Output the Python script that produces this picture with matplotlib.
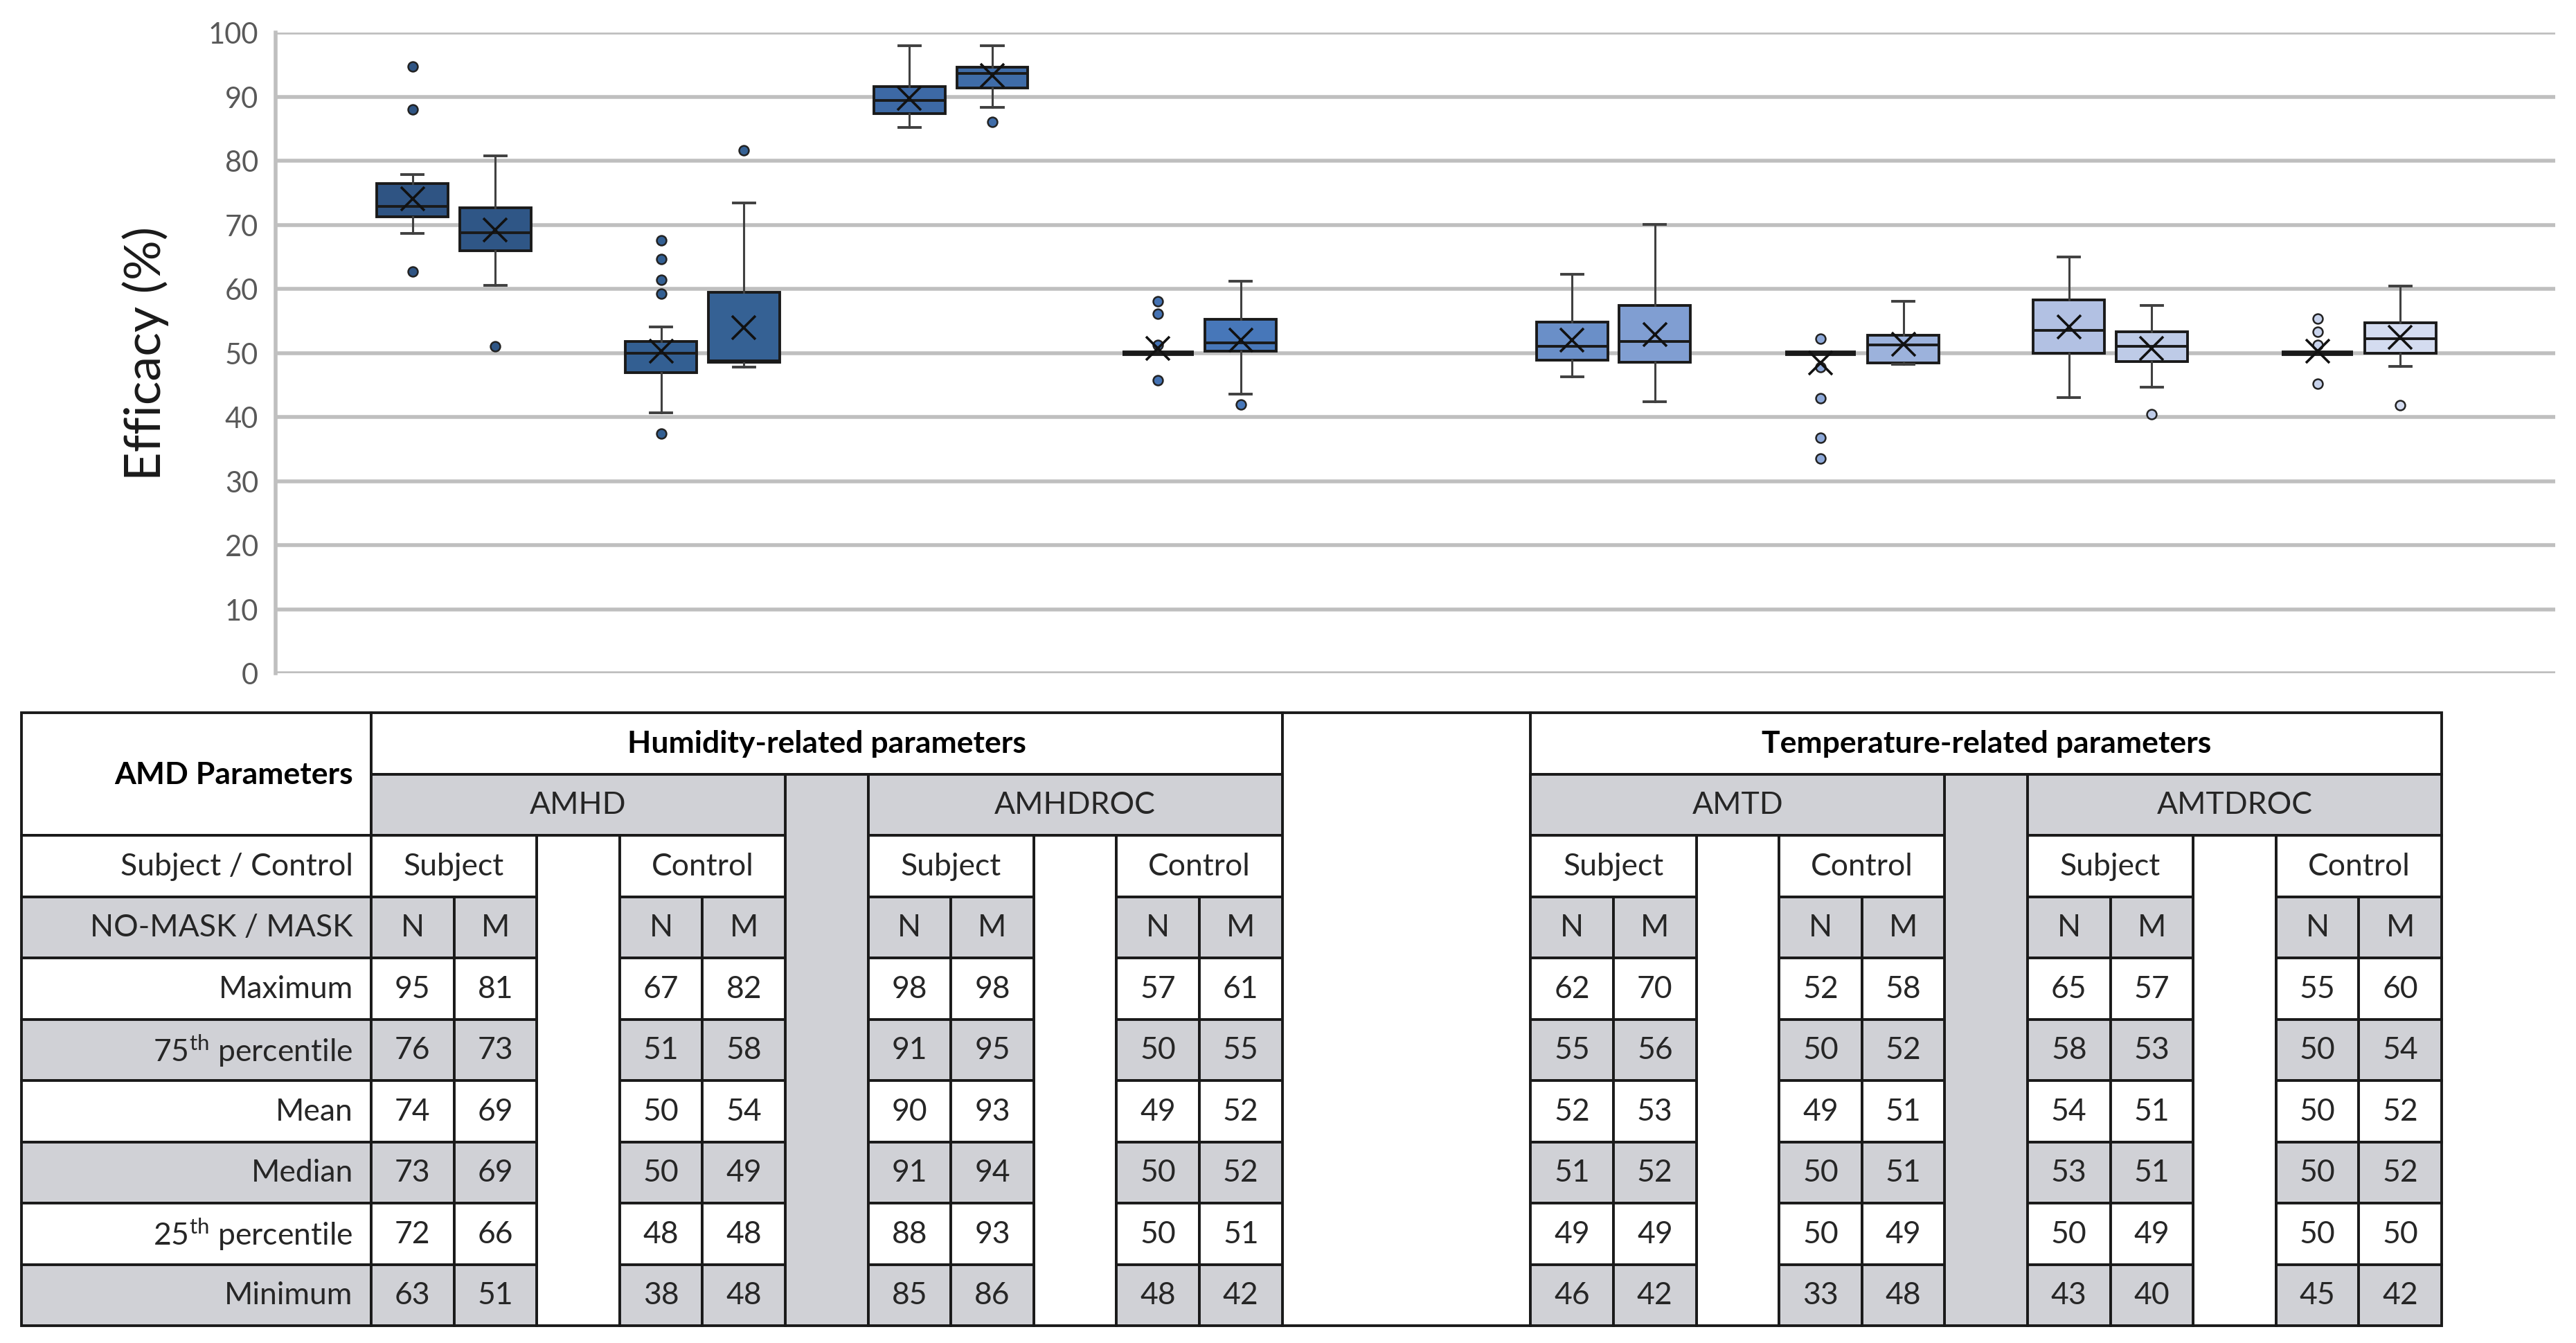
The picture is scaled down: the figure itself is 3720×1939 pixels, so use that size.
import matplotlib
matplotlib.use("Agg")
import matplotlib.pyplot as plt
from matplotlib.patches import Rectangle

plt.rcParams['font.family'] = ['Lato', 'DejaVu Sans']
plt.rcParams['mathtext.fontset'] = 'custom'
plt.rcParams['mathtext.rm'] = 'Lato'

# ---------------- data ----------------
parameters = ["AMHD", "AMHDROC", "AMTD", "AMTDROC"]
families = ["Humidity-related parameters", "Temperature-related parameters"]
groups = ["Subject", "Control"]
masks = ["N", "M"]
stat_labels = ["Maximum", r"75$^{\mathrm{th}}$ percentile", "Mean", "Median",
               r"25$^{\mathrm{th}}$ percentile", "Minimum"]

# table values (16 columns: param x group x mask)
tab_max = [95, 81, 67, 82, 98, 98, 57, 61, 62, 70, 52, 58, 65, 57, 55, 60]
tab_q3 = [76, 73, 51, 58, 91, 95, 50, 55, 55, 56, 50, 52, 58, 53, 50, 54]
tab_mean = [74, 69, 50, 54, 90, 93, 49, 52, 52, 53, 49, 51, 54, 51, 50, 52]
tab_median = [73, 69, 50, 49, 91, 94, 50, 52, 51, 52, 50, 51, 53, 51, 50, 52]
tab_q1 = [72, 66, 48, 48, 88, 93, 50, 51, 49, 49, 50, 49, 50, 49, 50, 50]
tab_min = [63, 51, 38, 48, 85, 86, 48, 42, 46, 42, 33, 48, 43, 40, 45, 42]

# box plot values
box_q1 = [71.2, 65.9, 46.9, 48.5, 87.4, 91.4, 50.0, 50.3, 48.9, 48.5, 50.0, 48.4, 50.0, 48.6, 50.0, 50.0]
box_med = [72.9, 68.8, 49.9, 48.8, 89.4, 93.6, 50.0, 51.6, 51.0, 51.8, 50.0, 51.2, 53.5, 51.0, 50.0, 52.2]
box_q3 = [76.4, 72.7, 51.8, 59.5, 91.6, 94.6, 50.0, 55.2, 54.8, 57.4, 50.0, 52.8, 58.3, 53.3, 50.0, 54.7]
box_mean = [74.1, 69.2, 50.3, 54.0, 89.7, 93.3, 50.7, 52.0, 52.0, 52.9, 48.4, 51.3, 54.1, 50.7, 50.3, 52.4]
whis_lo = [68.6, 60.5, 40.6, 47.8, 85.2, 88.3, 50.0, 43.6, 46.3, 42.4, 50.0, 48.2, 43.0, 44.7, 50.0, 47.9]
whis_hi = [77.8, 80.8, 54.1, 73.4, 97.9, 97.9, 50.0, 61.2, 62.3, 70.1, 50.0, 58.1, 65.0, 57.4, 50.0, 60.4]
outliers = [[94.7, 88.0, 62.7], [51.0], [67.6, 64.6, 61.4, 59.2, 37.4], [81.6],
            [], [86.1], [58.1, 56.1, 51.2, 45.7], [42.0],
            [], [], [52.2, 47.8, 42.9, 36.8, 33.5], [],
            [], [40.4], [55.4, 53.3, 51.2, 45.2], [41.8]]

box_colors = ["#2F5483", "#2F5686", "#335F92", "#356194",
              "#3D69A5", "#3F6CA8", "#4472B3", "#4777B9",
              "#6A8FC8", "#809ED2", "#8DA8D8", "#9CB2DC",
              "#B2C1E3", "#BECBE7", "#C8D3EC", "#D4DCF0"]

# ---------------- layout (pixels of the 3720x1940 canvas) ----------------
W, H, DPI = 3720, 1940, 200
UNIT = 119.6            # width of one table column
X0 = 536.0              # left edge of first data column
param_start = [0, 6, 14, 20]
col_offset = [0, 1, 3, 4]

positions = [param_start[p] + col_offset[k] + 0.5 for p in range(4) for k in range(4)]

fig = plt.figure(figsize=(W / DPI, H / DPI), dpi=DPI)

# chart axes
ch_l, ch_r, ch_t, ch_b = 398, 3690, 48, 973
ax = fig.add_axes([ch_l / W, 1 - ch_b / H, (ch_r - ch_l) / W, (ch_b - ch_t) / H])

stats = []
for i in range(16):
    stats.append(dict(whislo=whis_lo[i], q1=box_q1[i], med=box_med[i], q3=box_q3[i],
                      whishi=whis_hi[i], mean=box_mean[i], fliers=outliers[i]))

bp = ax.bxp(stats, positions=positions, widths=0.86, capwidths=0.26,
            patch_artist=True, showmeans=True,
            boxprops=dict(edgecolor="#1A1A1A", linewidth=1.4),
            medianprops=dict(color="#1A1A1A", linewidth=1.4),
            whiskerprops=dict(color="#404040", linewidth=1.1),
            capprops=dict(color="#404040", linewidth=1.4),
            meanprops=dict(marker="x", markeredgecolor="#111111", markersize=12,
                           markeredgewidth=1.3),
            flierprops=dict(marker="o", markersize=5, markeredgecolor="#222222",
                            markeredgewidth=0.9))
for i, b in enumerate(bp["boxes"]):
    b.set_facecolor(box_colors[i])
    if box_q1[i] == box_q3[i]:
        b.set_linewidth(2.8)
    bp["fliers"][i].set_markerfacecolor(box_colors[i])

ax.set_ylim(0, 100)
ax.set_xlim((ch_l - X0) / UNIT, (ch_r - X0) / UNIT)
ax.set_yticks(range(0, 101, 10))
ax.set_xticks([])
ax.grid(axis="y", color="#BFBFBF", linewidth=2.0)
ax.set_axisbelow(True)
for s in ["top", "right", "bottom"]:
    ax.spines[s].set_visible(False)
ax.spines["left"].set_color("#BFBFBF")
ax.spines["left"].set_linewidth(2.0)
ax.tick_params(axis="y", length=0, pad=9, labelsize=15, labelcolor="#595959")
fig.text(210 / W, 1 - 510 / H, "Efficacy (%)", rotation=90, ha="center", va="center",
         fontsize=26, color="#1A1A1A")

# table axes
tb_l, tb_t, tb_b = 31, 1030, 1915
tb_r = X0 + 25 * UNIT
tx = fig.add_axes([tb_l / W, 1 - tb_b / H, (tb_r - tb_l) / W, (tb_b - tb_t) / H])
lab_x0 = -(X0 - tb_l) / UNIT
tx.set_xlim(lab_x0, 25)
tx.set_ylim(10, 0)
tx.axis("off")

GRAY = "#D0D1D6"
EDGE = "#1A1A1A"
TXT = "#262626"


def cell(x0, x1, r0, r1, fill, text=None, bold=False, ha="center"):
    tx.add_patch(Rectangle((x0, r0), x1 - x0, r1 - r0, facecolor=fill,
                           edgecolor=EDGE, linewidth=1.4, clip_on=False))
    if text is not None:
        xt = (x0 + x1) / 2 if ha == "center" else x1 - 0.22
        tx.text(xt, (r0 + r1) / 2, text, ha=ha, va="center", fontsize=16,
                fontweight="bold" if bold else "normal",
                color="black" if bold else TXT)


# left label column
cell(lab_x0, 0, 0, 2, "white", "AMD Parameters", bold=True, ha="right")
cell(lab_x0, 0, 2, 3, "white", "Subject / Control", ha="right")
cell(lab_x0, 0, 3, 4, GRAY, "NO-MASK / MASK", ha="right")
for j, lab in enumerate(stat_labels):
    cell(lab_x0, 0, 4 + j, 5 + j, "white" if j % 2 == 0 else GRAY, lab, ha="right")

# family headers and separating columns
cell(0, 11, 0, 1, "white", families[0], bold=True)
cell(14, 25, 0, 1, "white", families[1], bold=True)
cell(11, 14, 0, 10, "white")
cell(5, 6, 1, 10, GRAY)
cell(19, 20, 1, 10, GRAY)

table_rows = [tab_max, tab_q3, tab_mean, tab_median, tab_q1, tab_min]
for p, name in enumerate(parameters):
    s = param_start[p]
    cell(s, s + 5, 1, 2, GRAY, name)
    cell(s + 2, s + 3, 2, 10, "white")
    for g, gname in enumerate(groups):
        gx = s + 3 * g
        cell(gx, gx + 2, 2, 3, "white", gname)
        for m, mname in enumerate(masks):
            cx = gx + m
            idx = p * 4 + g * 2 + m
            cell(cx, cx + 1, 3, 4, GRAY, mname)
            for j, vals in enumerate(table_rows):
                cell(cx, cx + 1, 4 + j, 5 + j, "white" if j % 2 == 0 else GRAY,
                     str(vals[idx]))

fig.savefig("out.png", dpi=DPI, facecolor="white")
